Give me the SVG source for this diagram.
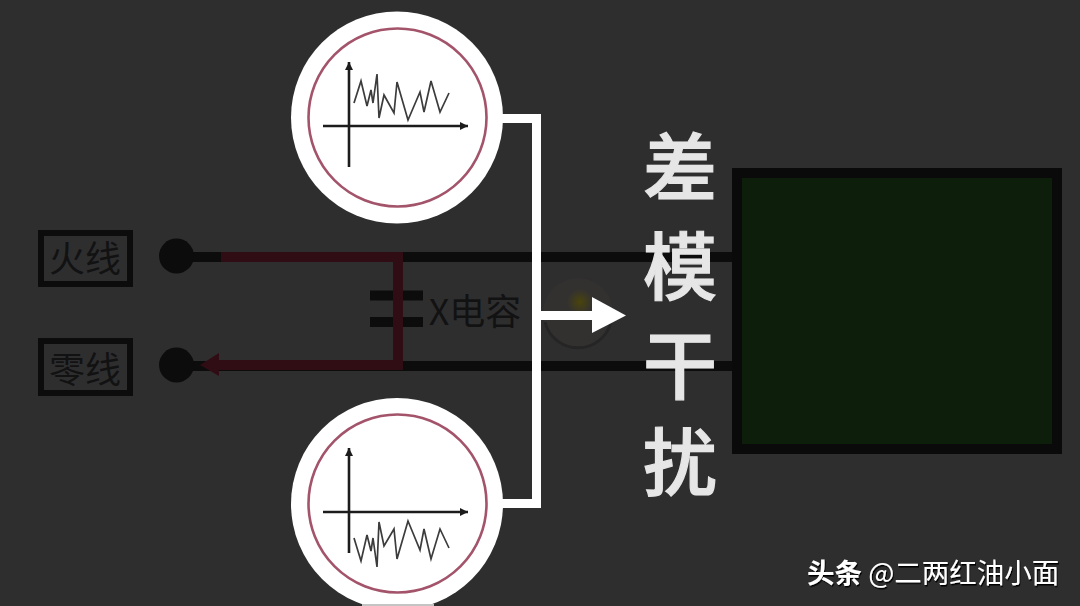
<svg xmlns="http://www.w3.org/2000/svg" width="1080" height="606" viewBox="0 0 1080 606">
<style>
.cjk{font-family:"Noto Sans CJK SC","Liberation Sans",sans-serif}
.wire{fill:none;stroke:#0c0c0d;stroke-width:10}
.red{fill:none;stroke:#300d15;stroke-width:10}
.white{fill:none;stroke:#fff;stroke-width:9}
.ax{fill:none;stroke:#1c1c1c;stroke-width:2.6}
.wave{fill:none;stroke:#3c3c3c;stroke-width:1.7}
.ring{fill:#fff;stroke:#a3546b;stroke-width:2.6}
.lbl{fill:none;stroke:#0c0c0d;stroke-width:6}
.big{font-size:74px;fill:#e6e6e6;stroke:#e6e6e6;stroke-width:1.200;font-weight:500;text-anchor:middle}
.dim{font-size:36px;fill:#121213;text-anchor:middle}
</style>
<defs>
<marker id="ah" markerWidth="10" markerHeight="8" refX="8" refY="4" orient="auto" markerUnits="userSpaceOnUse"><path d="M0 0L8 4L0 8Z" fill="#1c1c1c"/></marker>
<radialGradient id="smudge"><stop offset="0" stop-color="#4a440c"/><stop offset="1" stop-color="#333130"/></radialGradient>
<filter id="sh" x="-5%" y="-20%" width="110%" height="140%"><feDropShadow dx="1" dy="1.500" stdDeviation="0.600" flood-color="#000"/></filter>
</defs>
<rect width="1080" height="606" fill="#2e2e2f"/>
<g id="connectors">
<path class="wire" d="M177 257H736"/>
<path class="wire" d="M177 366H736"/>
<path class="wire" d="M370 295.500H423M370 322H423"/>
<path class="red" d="M221 257H398V365H216"/>
<path d="M219 353V376L200 365Z" fill="#300d15"/>
</g>
<g id="noise-source"><circle cx="578" cy="313" r="35" fill="#333130"/><path d="M545 322A34 34 0 0 0 611 322" fill="none" stroke="#262526" stroke-width="3"/><circle cx="580" cy="302" r="13" fill="url(#smudge)"/></g>
<g id="n-live"><rect class="lbl" x="41" y="233" width="89" height="51"/><text class="cjk dim" x="85" y="272">火线</text><circle cx="176.500" cy="256" r="17.500" fill="#0c0c0d"/></g>
<g id="n-neutral"><rect class="lbl" x="41" y="341" width="89" height="52"/><text class="cjk dim" x="85" y="383">零线</text><circle cx="176.500" cy="365" r="17.500" fill="#0c0c0d"/></g>
<g id="x-cap"><text x="475" y="325" class="cjk" font-size="36" fill="#121213" text-anchor="middle">X电容</text></g>
<g id="load"><rect x="737" y="173" width="320" height="276" fill="#0d1f0b" stroke="#0a0a0b" stroke-width="10"/></g>
<g id="bracket">
<path class="white" d="M500 118.500H536.500V503.500H500"/>
<path class="white" d="M536 315.500H594"/>
<path d="M592 297L626 315.500L592 333Z" fill="#fff"/>
</g>
<g id="scope-top">
<circle cx="397" cy="117.500" r="106" fill="#fff"/>
<circle class="ring" cx="397.500" cy="117.500" r="89"/>
<path class="ax" d="M323 126H468" marker-end="url(#ah)"/>
<path class="ax" d="M349 167V62" marker-end="url(#ah)"/>
<path class="wave" d="M354 103L361 81L367 106L371 90L373 103L377 74L379 118L384 95L394 113L397 82L408 120L420 92L424 112L431 81L440 112L449 93"/>
</g>
<g id="scope-bottom">
<circle cx="397" cy="504" r="106" fill="#fff"/>
<circle class="ring" cx="397.500" cy="503.500" r="89"/>
<path class="ax" d="M323 512H468" marker-end="url(#ah)"/>
<path class="ax" d="M349 553V448" marker-end="url(#ah)"/>
<path class="wave" d="M354 538L361 561L367 535L371 551L373 538L377 567L379 522L384 546L394 529L397 559L408 521L420 550L424 529L431 559L440 529L449 548"/>
<rect x="362" y="604" width="72" height="2" fill="#c4c4c4"/>
</g>
<g id="title" class="cjk">
<text class="big" x="680" y="195">差</text>
<text class="big" x="680" y="294">模</text>
<text class="big" x="680" y="393">干</text>
<text class="big" x="680" y="490">扰</text>
</g>
<text x="807" y="583" class="cjk" font-size="27.500" fill="#fff" filter="url(#sh)"><tspan font-weight="700">头条</tspan> @二两红油小面</text>
</svg>
